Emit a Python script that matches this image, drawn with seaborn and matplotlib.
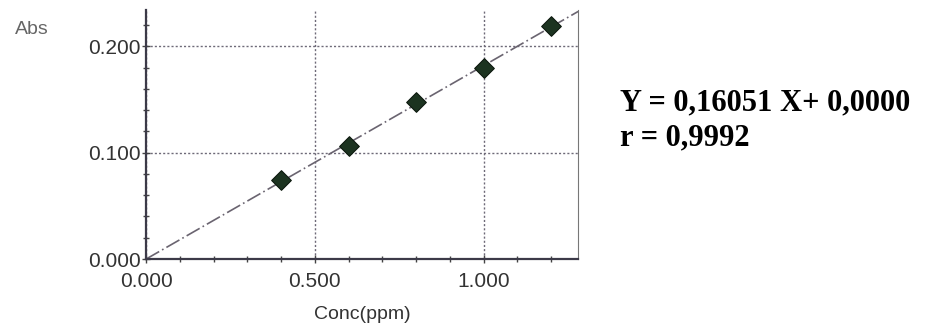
import numpy as np
import pandas as pd
import matplotlib
matplotlib.use("Agg")
import matplotlib.pyplot as plt
import seaborn as sns
from matplotlib.ticker import MultipleLocator, FormatStrFormatter

# calibration standards
conc = [0.4, 0.6, 0.8, 1.0, 1.2]
absorb = [0.074, 0.106, 0.148, 0.180, 0.219]
eq_text = "Y = 0,16051 X+ 0,0000"
r_text = "r = 0,9992"

dt = pd.DataFrame({"conc": conc, "abs": absorb})

sns.set_style("ticks")
plt.rcParams["font.family"] = ["Liberation Sans", "DejaVu Sans"]

fig = plt.figure(figsize=(9.25, 3.25), dpi=100)
ax = fig.add_axes([0.158, 0.203, 0.467, 0.766])

# fitted line through origin (least squares on the points)
x = np.array(conc)
y = np.array(absorb)
slope = (x * y).sum() / (x * x).sum()
xmax, ymax = 1.28, 0.234
fit = pd.DataFrame({"conc": [0.0, xmax], "abs": [0.0, slope * xmax]})
sns.lineplot(data=fit, x="conc", y="abs", ax=ax, color="#6a6470",
             linewidth=1.2, dashes=False, linestyle=(0, (9, 2, 1, 2)))

sns.scatterplot(data=dt, x="conc", y="abs", ax=ax, marker="D", s=100,
                color="#1c3320", edgecolor="#0d1a0f", linewidth=0.8, zorder=5)

ax.set_xlim(0, xmax)
ax.set_ylim(0, ymax)
ax.xaxis.set_major_locator(MultipleLocator(0.5))
ax.xaxis.set_minor_locator(MultipleLocator(0.1))
ax.yaxis.set_major_locator(MultipleLocator(0.1))
ax.yaxis.set_minor_locator(MultipleLocator(0.02))
ax.xaxis.set_major_formatter(FormatStrFormatter("%.3f"))
ax.yaxis.set_major_formatter(FormatStrFormatter("%.3f"))
ax.tick_params(which="both", direction="inout", colors="#444444",
               labelcolor="#333333", labelsize=15)
ax.tick_params(which="major", length=6, width=1)
ax.tick_params(which="minor", length=4, width=1)
ax.tick_params(axis="x", pad=6)
ax.tick_params(axis="y", pad=1)

ax.grid(True, which="major", linestyle=(0, (1.5, 1.5)), color="#6e6a78", linewidth=1)

for side in ["left", "bottom"]:
    ax.spines[side].set_color("#3c3a48")
    ax.spines[side].set_linewidth(1.6)
ax.spines["right"].set_visible(True)
ax.spines["right"].set_color("#777777")
ax.spines["right"].set_linewidth(0.8)
ax.spines["top"].set_visible(False)

ax.set_xlabel("Conc(ppm)", fontsize=14, color="#333333", labelpad=11)
ax.set_ylabel("")
fig.text(0.016, 0.895, "Abs", fontsize=14, color="#666666")

fig.text(0.670, 0.683, eq_text, fontsize=22, fontweight="bold", color="black",
         family=["Liberation Serif", "DejaVu Serif"], va="center")
fig.text(0.670, 0.577, r_text, fontsize=22, fontweight="bold", color="black",
         family=["Liberation Serif", "DejaVu Serif"], va="center")

fig.savefig("out.png", dpi=100)
